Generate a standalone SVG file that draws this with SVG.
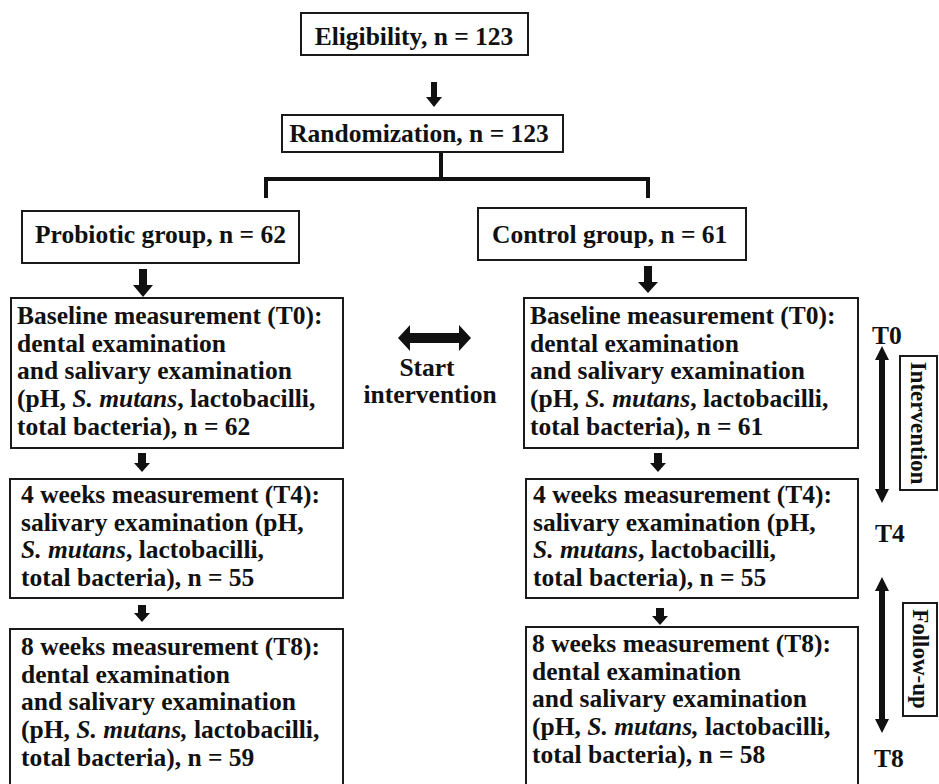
<svg xmlns="http://www.w3.org/2000/svg" width="939" height="784" viewBox="0 0 939 784">
<style>
.box{fill:#fff;stroke:#1a1a1a;stroke-width:2}
.t{font-family:"Liberation Serif","Times New Roman",serif;font-weight:bold;font-size:25.5px;fill:#111}
.it{font-style:italic}
.rt{font-family:"Liberation Serif","Times New Roman",serif;font-weight:bold;font-size:23px;fill:#111}
.ar{fill:#111}
.ln{stroke:#111;stroke-width:4;fill:none}
</style>
<rect width="939" height="784" fill="#fff"/>
<g id="connectors">
<polygon class="ar" points="431,82 437,82 437,97 442,97 434,107 426,97 431,97"/>
<path class="ln" d="M441,152 V179 M266,179 H648 M266,177 V198 M648,177 V198"/>
<polygon class="ar" points="139,269 147,269 147,285 153,285 143,297 133,285 139,285"/>
<polygon class="ar" points="644,266 652,266 652,282 658,282 648,293 638,282 644,282"/>
<polygon class="ar" points="138,453 146,453 146,463 150,463 142,472 134,463 138,463"/>
<polygon class="ar" points="654,453 662,453 662,463 666,463 658,472 650,463 654,463"/>
<polygon class="ar" points="138,605 146,605 146,613 150,613 142,622 134,613 138,613"/>
<polygon class="ar" points="656,608 664,608 664,616 668,616 660,625 652,616 656,616"/>
<polygon class="ar" points="398,338 410,325 410,333 459,333 459,325 471,338 459,351 459,343 410,343 410,351"/>
<polygon class="ar" points="882,346 889,360 885,360 885,489 889,489 882,503 875,489 879,489 879,360 875,360"/>
<polygon class="ar" points="882,577 889,591 885,591 885,719 889,719 882,733 875,719 879,719 879,591 875,591"/>
</g>
<g id="eligibility">
<rect class="box" x="301" y="13" width="227" height="42"/>
<text class="t" x="414" y="45" text-anchor="middle">Eligibility, n = 123</text>
</g>
<g id="randomization">
<rect class="box" x="282" y="115" width="281" height="37"/>
<text class="t" x="419" y="142" text-anchor="middle">Randomization, n = 123</text>
</g>
<g id="probiotic">
<rect class="box" x="22" y="211" width="277" height="52"/>
<text class="t" x="35" y="243">Probiotic group, n = 62</text>
</g>
<g id="control">
<rect class="box" x="478" y="208" width="268" height="52"/>
<text class="t" x="492" y="243">Control group, n = 61</text>
</g>
<g id="baseline-probiotic">
<rect class="box" x="11" y="298" width="332" height="150"/>
<text class="t" x="17" y="324">Baseline measurement (T0):</text>
<text class="t" x="17" y="351.7">dental examination</text>
<text class="t" x="17" y="379.4">and salivary examination</text>
<text class="t" x="17" y="407.1">(pH, <tspan class="it">S. mutans</tspan>, lactobacilli,</text>
<text class="t" x="17" y="434.8">total bacteria), n = 62</text>
</g>
<g id="baseline-control">
<rect class="box" x="524" y="298" width="334" height="150"/>
<text class="t" x="530" y="324">Baseline measurement (T0):</text>
<text class="t" x="530" y="351.7">dental examination</text>
<text class="t" x="530" y="379.4">and salivary examination</text>
<text class="t" x="530" y="407.1">(pH, <tspan class="it">S. mutans</tspan>, lactobacilli,</text>
<text class="t" x="530" y="434.8">total bacteria), n = 61</text>
</g>
<g id="start-intervention">
<text class="t" x="427" y="376" text-anchor="middle">Start</text>
<text class="t" x="430" y="403" text-anchor="middle">intervention</text>
</g>
<g id="t4-probiotic">
<rect class="box" x="10" y="479" width="333" height="119"/>
<text class="t" x="21" y="503">4 weeks measurement (T4):</text>
<text class="t" x="21" y="530.7">salivary examination (pH,</text>
<text class="t" x="21" y="558.4"><tspan class="it">S. mutans</tspan>, lactobacilli,</text>
<text class="t" x="21" y="586.1">total bacteria), n = 55</text>
</g>
<g id="t4-control">
<rect class="box" x="526" y="479" width="332" height="119"/>
<text class="t" x="533" y="503">4 weeks measurement (T4):</text>
<text class="t" x="533" y="530.7">salivary examination (pH,</text>
<text class="t" x="533" y="558.4"><tspan class="it">S. mutans</tspan>, lactobacilli,</text>
<text class="t" x="533" y="586.1">total bacteria), n = 55</text>
</g>
<g id="t8-probiotic">
<rect class="box" x="10" y="629" width="333" height="170"/>
<text class="t" x="21" y="655">8 weeks measurement (T8):</text>
<text class="t" x="21" y="682.7">dental examination</text>
<text class="t" x="21" y="710.4">and salivary examination</text>
<text class="t" x="21" y="738.1">(pH, <tspan class="it">S. mutans,</tspan> lactobacilli,</text>
<text class="t" x="21" y="765.8">total bacteria), n = 59</text>
</g>
<g id="t8-control">
<rect class="box" x="526" y="627" width="332" height="170"/>
<text class="t" x="532" y="652">8 weeks measurement (T8):</text>
<text class="t" x="532" y="679.7">dental examination</text>
<text class="t" x="532" y="707.4">and salivary examination</text>
<text class="t" x="532" y="735.1">(pH, <tspan class="it">S. mutans,</tspan> lactobacilli,</text>
<text class="t" x="532" y="762.8">total bacteria), n = 58</text>
</g>
<g id="timeline">
<text class="t" x="872" y="344" font-size="25">T0</text>
<text class="t" x="875" y="542">T4</text>
<text class="t" x="874" y="767">T8</text>
</g>
<g id="intervention-label">
<rect class="box" x="900" y="356" width="37" height="134"/>
<text class="rt" transform="translate(911,423) rotate(90)" text-anchor="middle">Intervention</text>
</g>
<g id="followup-label">
<rect class="box" x="903" y="603" width="34" height="113"/>
<text class="rt" transform="translate(913,659) rotate(90)" text-anchor="middle">Follow-up</text>
</g>
</svg>
